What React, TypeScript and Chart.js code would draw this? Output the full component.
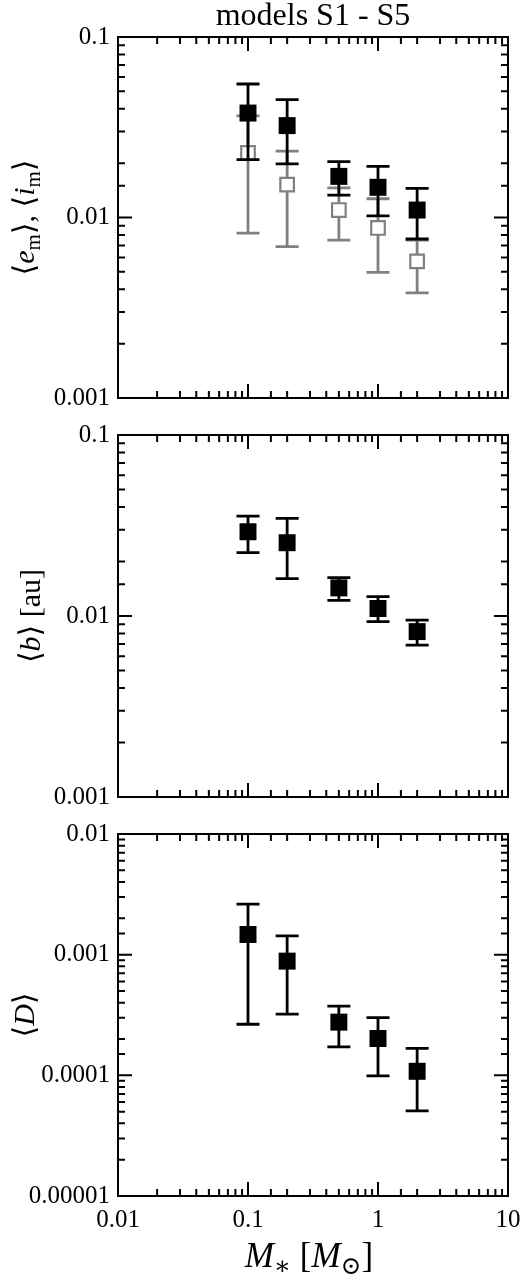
import React, { useRef, useEffect } from 'react';
import { Chart, registerables } from 'chart.js';

Chart.register(...registerables);

// stellar masses (x)
const masses = [0.1, 0.2, 0.5, 1, 2];

// panel 1: <e_m> (filled) and <i_m> (open)
const eccMean = [0.0379, 0.0323, 0.0169, 0.0147, 0.011];
const eccLow = [0.0209, 0.0198, 0.0133, 0.0102, 0.0076];
const eccHigh = [0.0549, 0.045, 0.0204, 0.0192, 0.0145];
const incMean = [0.0228, 0.0152, 0.011, 0.00875, 0.00571];
const incLow = [0.0082, 0.0069, 0.0075, 0.00497, 0.00382];
const incHigh = [0.0366, 0.0233, 0.0146, 0.0127, 0.0075];

// panel 2: <b> [au]
const bMean = [0.0292, 0.0254, 0.0143, 0.011, 0.0082];
const bLow = [0.0224, 0.0161, 0.0122, 0.0093, 0.0069];
const bHigh = [0.0356, 0.0346, 0.0163, 0.0128, 0.0095];

// panel 3: <D>
const dMean = [0.00147, 0.000884, 0.000276, 0.000202, 0.000108];
const dLow = [0.000265, 0.000321, 0.000172, 0.0000989, 0.0000507];
const dHigh = [0.00262, 0.00143, 0.000374, 0.000301, 0.000167];

// tick labels
const xTickValues = [0.01, 0.1, 1, 10];
const xTickLabels = ['0.01', '0.1', '1', '10'];
const yTickValues = [0.00001, 0.0001, 0.001, 0.01, 0.1];
const yTickLabels = ['0.00001', '0.0001', '0.001', '0.01', '0.1'];

const SERIF = '"Liberation Serif", "DejaVu Serif", serif';
const GRAY = '#808080';
const W = 520;
const H = 1275;

type Run = { text: string; italic?: boolean; sub?: boolean };

const drawRuns = (ctx: CanvasRenderingContext2D, runs: Run[], cx: number, cy: number, size: number, rotate: boolean) => {
    ctx.save();
    ctx.translate(cx, cy);
    if (rotate) ctx.rotate(-Math.PI / 2);
    ctx.fillStyle = '#000';
    ctx.textAlign = 'left';
    ctx.textBaseline = 'alphabetic';
    const fontFor = (r: Run) => `${r.italic ? 'italic ' : ''}${r.sub ? Math.round(size * 0.7) : size}px ${SERIF}`;
    let total = 0;
    runs.forEach((r) => { ctx.font = fontFor(r); total += ctx.measureText(r.text).width; });
    let x = -total / 2;
    const base = size * 0.32;
    runs.forEach((r) => {
        ctx.font = fontFor(r);
        ctx.fillText(r.text, x, base + (r.sub ? size * 0.2 : 0));
        x += ctx.measureText(r.text).width;
    });
    ctx.restore();
};

const isDecade = (v: number) => Math.abs(Math.log10(v) - Math.round(Math.log10(v))) < 1e-6;

const labelFor = (values: number[], labels: string[]) => (v: number | string) => {
    const i = values.findIndex((t) => Math.abs(Math.log10(t) - Math.log10(Number(v))) < 1e-6);
    return i >= 0 ? labels[i] : '';
};

// error bars drawn just before each dataset, so the squares sit on top
const errorBars = {
    id: 'errorBars',
    beforeDatasetDraw(chart: any, args: any) {
        const ds = chart.data.datasets[args.index];
        if (!ds.errLow) return;
        const { ctx, scales } = chart;
        ctx.save();
        ctx.strokeStyle = ds.errColor;
        ctx.lineWidth = 2.8;
        ds.data.forEach((p: any, i: number) => {
            const x = scales.x.getPixelForValue(p.x);
            const y0 = scales.y.getPixelForValue(ds.errLow[i]);
            const y1 = scales.y.getPixelForValue(ds.errHigh[i]);
            ctx.beginPath();
            ctx.moveTo(x, y0); ctx.lineTo(x, y1);
            ctx.moveTo(x - 11.5, y0); ctx.lineTo(x + 11.5, y0);
            ctx.moveTo(x - 11.5, y1); ctx.lineTo(x + 11.5, y1);
            ctx.stroke();
        });
        ctx.restore();
    },
};

// framed box with inward ticks on all four sides
const frame = {
    id: 'frame',
    afterDatasetsDraw(chart: any) {
        const { ctx, chartArea: a, scales } = chart;
        ctx.save();
        ctx.strokeStyle = '#000';
        ctx.lineWidth = 2;
        ctx.beginPath();
        scales.x.ticks.forEach((t: any) => {
            const len = isDecade(t.value) ? 14 : 7;
            const x = scales.x.getPixelForValue(t.value);
            ctx.moveTo(x, a.bottom); ctx.lineTo(x, a.bottom - len);
            ctx.moveTo(x, a.top); ctx.lineTo(x, a.top + len);
        });
        scales.y.ticks.forEach((t: any) => {
            const len = isDecade(t.value) ? 14 : 7;
            const y = scales.y.getPixelForValue(t.value);
            ctx.moveTo(a.left, y); ctx.lineTo(a.left + len, y);
            ctx.moveTo(a.right, y); ctx.lineTo(a.right - len, y);
        });
        ctx.stroke();
        ctx.strokeRect(a.left, a.top, a.right - a.left, a.bottom - a.top);
        ctx.restore();
    },
};

const titles = {
    id: 'titles',
    afterDraw(chart: any, _args: any, opts: any) {
        const { ctx, chartArea: a } = chart;
        const cy = (a.top + a.bottom) / 2;
        const cx = (a.left + a.right) / 2;
        if (opts.yTitle) drawRuns(ctx, opts.yTitle, opts.yTitleX, cy, 30, true);
        if (opts.top) drawRuns(ctx, opts.top, cx, a.top - 22, 32, false);
        if (opts.xTitle) drawRuns(ctx, opts.xTitle, cx - 4, a.bottom + 60, 35, false);
    },
};

const xTitleRuns: Run[] = [
    { text: 'M', italic: true }, { text: '∗', sub: true }, { text: ' [' },
    { text: 'M', italic: true }, { text: '⊙', sub: true }, { text: ']' },
];

interface Series {
    mean: number[];
    low: number[];
    high: number[];
    open?: boolean;
}

interface PanelProps {
    top: number;
    bottom: number;
    yMin: number;
    yMax: number;
    series: Series[];
    yTitle: Run[];
    yTitleX: number;
    topTitle?: Run[];
    showX?: boolean;
}

const Panel: React.FC<PanelProps> = ({ top, bottom, yMin, yMax, series, yTitle, yTitleX, topTitle, showX }) => {
    const chartRef = useRef<HTMLCanvasElement>(null);
    const chartInstance = useRef<Chart | null>(null);

    useEffect(() => {
        if (!chartRef.current) return;
        if (chartInstance.current) chartInstance.current.destroy();
        const ctx = chartRef.current.getContext('2d');
        if (!ctx) return;
        const xh = showX ? 40 : 0;
        const tickFont = { family: SERIF, size: 25 };
        chartInstance.current = new Chart(ctx, {
            type: 'scatter',
            data: {
                datasets: series.map((s) => ({
                    data: masses.map((m, i) => ({ x: m, y: s.mean[i] })),
                    errLow: s.low,
                    errHigh: s.high,
                    errColor: s.open ? GRAY : '#000',
                    pointStyle: 'rect',
                    pointRadius: s.open ? 9.6 : 12,
                    backgroundColor: s.open ? '#fff' : '#000',
                    borderColor: s.open ? GRAY : '#000',
                    borderWidth: s.open ? 2.2 : 0,
                })) as any,
            },
            options: {
                responsive: false,
                maintainAspectRatio: false,
                animation: false,
                events: [],
                layout: { padding: { top, left: 0, right: 12, bottom: H - bottom - xh } },
                scales: {
                    x: {
                        type: 'logarithmic',
                        min: 0.01,
                        max: 10,
                        grid: { display: false, drawTicks: false },
                        border: { display: false },
                        afterFit: (s: any) => {
                            s.height = xh;
                            s.paddingLeft = 0;
                            s.paddingRight = 0;
                        },
                        ticks: {
                            display: !!showX,
                            autoSkip: false,
                            maxRotation: 0,
                            minRotation: 0,
                            padding: 9,
                            color: '#000',
                            font: tickFont,
                            callback: labelFor(xTickValues, xTickLabels),
                        },
                    },
                    y: {
                        type: 'logarithmic',
                        min: yMin,
                        max: yMax,
                        grid: { display: false, drawTicks: false },
                        border: { display: false },
                        afterFit: (s: any) => {
                            s.width = 118;
                            s.paddingTop = 0;
                            s.paddingBottom = 0;
                        },
                        ticks: {
                            autoSkip: false,
                            padding: 8,
                            color: '#000',
                            font: tickFont,
                            callback: labelFor(yTickValues, yTickLabels),
                        },
                    },
                },
                plugins: {
                    legend: { display: false },
                    tooltip: { enabled: false },
                    titles: { yTitle, yTitleX, top: topTitle, xTitle: showX ? xTitleRuns : null },
                } as any,
            },
            plugins: [errorBars, frame, titles],
        });
        return () => { chartInstance.current?.destroy(); };
    }, []);

    return (
        <canvas
            ref={chartRef}
            width={W}
            height={H}
            style={{ position: 'absolute', left: 0, top: 0, width: W, height: H }}
        ></canvas>
    );
};

const App: React.FC = () => (
    <div style={{ position: 'fixed', left: 0, top: 0, width: W, height: H, background: '#fff', overflow: 'hidden' }}>
        <Panel
            top={37}
            bottom={398}
            yMin={0.001}
            yMax={0.1}
            series={[
                { mean: eccMean, low: eccLow, high: eccHigh },
                { mean: incMean, low: incLow, high: incHigh, open: true },
            ]}
            yTitle={[
                { text: '⟨' }, { text: 'e', italic: true }, { text: 'm', sub: true }, { text: '⟩, ⟨' },
                { text: 'i', italic: true }, { text: 'm', sub: true }, { text: '⟩' },
            ]}
            yTitleX={24}
            topTitle={[{ text: 'models S1 - S5' }]}
        />
        <Panel
            top={435}
            bottom={797}
            yMin={0.001}
            yMax={0.1}
            series={[{ mean: bMean, low: bLow, high: bHigh }]}
            yTitle={[{ text: '⟨' }, { text: 'b', italic: true }, { text: '⟩ [au]' }]}
            yTitleX={30}
        />
        <Panel
            top={834}
            bottom={1196}
            yMin={0.00001}
            yMax={0.01}
            series={[{ mean: dMean, low: dLow, high: dHigh }]}
            yTitle={[{ text: '⟨' }, { text: 'D', italic: true }, { text: '⟩' }]}
            yTitleX={24}
            showX
        />
    </div>
);

export default App;
